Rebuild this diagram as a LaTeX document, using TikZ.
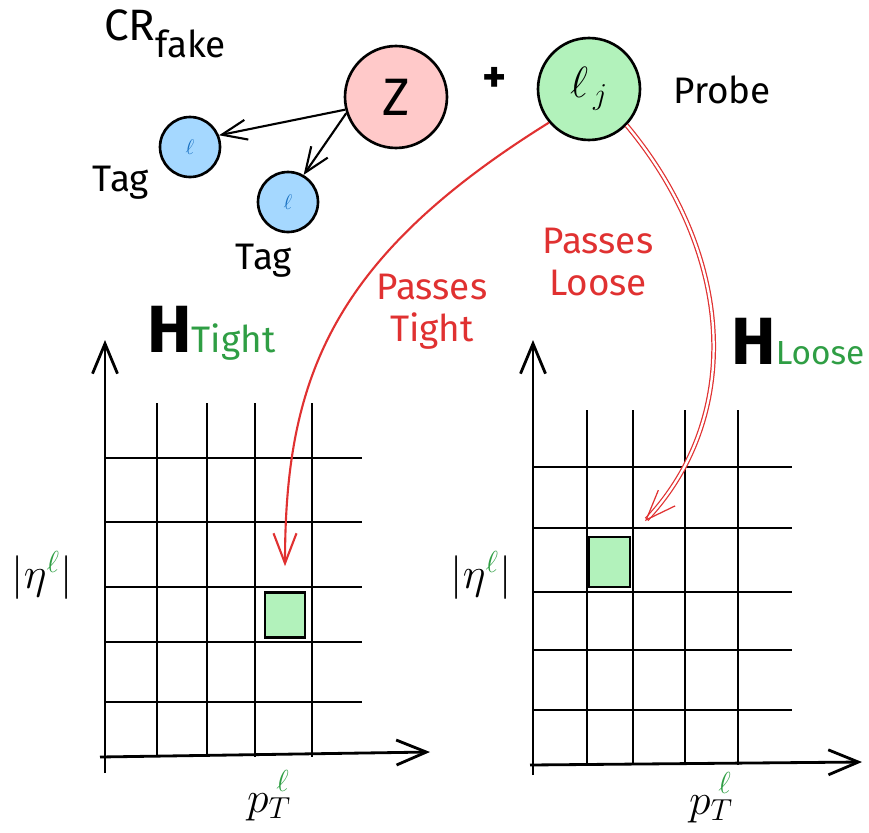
\documentclass[tikz,border=0pt]{standalone}
\usepackage{fontspec}
\setmainfont{Fira Sans}
\usetikzlibrary{arrows.meta,positioning}
\definecolor{zpink}{HTML}{FFC9C9}
\definecolor{lgreen}{HTML}{B2F2BB}
\definecolor{tblue}{HTML}{A5D8FF}
\definecolor{lblue}{HTML}{1971C2}
\definecolor{rred}{HTML}{E03131}
\definecolor{tgreen}{HTML}{2F9E44}

\begin{document}
\begin{tikzpicture}[
x=0.02cm, y=-0.02cm,
ball/.style={draw, circle, line width=1.5pt, inner sep=0pt},
bigball/.style={ball, minimum size=2.04cm},
tagball/.style={ball, fill=tblue, minimum size=1.2cm, text=lblue, font=\large},
caption/.style={font=\fontsize{21}{24}\selectfont},
arrow/.style={-{Straight Barb[length=5mm,width=4mm]}, line width=1.2pt},
pass/.style={-{Straight Barb[length=6mm,width=4.6mm]}, draw=rred, line width=1.2pt},
gridline/.style={line width=1.6pt},
axisline/.style={gridline, -{Straight Barb[length=6mm,width=5mm]}},
cell/.style={draw, fill=lgreen, line width=1.5pt, inner sep=0pt},
axlabel/.style={font=\fontsize{26}{26}\selectfont, inner sep=1pt},
histname/.style={anchor=base west, inner sep=0pt}
]
\useasboundingbox (0,0) rectangle (869,832);

\node[anchor=base west, inner sep=0pt] (cr) at (104,40) {\fontsize{25}{25}\selectfont CR\raisebox{-10pt}{\fontsize{21}{21}\selectfont fake}};
\node[bigball, fill=zpink, font=\fontsize{30}{30}\selectfont] (z) at (396,97) {Z};
\node[font=\bfseries\fontsize{26}{26}\selectfont] (plus) at (495,80) {+};
\node[bigball, fill=lgreen, font=\fontsize{24}{24}\selectfont] (lj) at (589,89) {$\ell_{\,j}$};
\node[caption] (probe) at (722,90) {Probe};
\node[tagball] (tagA) at (190,147) {$\ell$};
\node[tagball] (tagB) at (288,202) {$\ell$};
\node[caption] (tagAl) at (121,183) {Tag};
\node[caption] (tagBl) at (264,261) {Tag};

\draw[arrow] (z.194) -- (tagA.22);
\draw[arrow] (z.198) -- (tagB.60);

\foreach \x in {157,207,255,312} \draw[gridline] (\x,403) -- (\x,757);
\foreach \y in {458,522,587,642,702} \draw[gridline] (105,\y) -- (362,\y);
\draw[axisline] (105,773) -- (105,340);
\draw[axisline] (100,757) -- (430,752);

\foreach \x in {587,633,685,738} \draw[gridline] (\x,410) -- (\x,765);
\foreach \y in {467,528,592,650,710} \draw[gridline] (533,\y) -- (792,\y);
\draw[axisline] (533,775) -- (533,340);
\draw[axisline] (530,765) -- (862,762);

\node[cell, minimum width=0.8cm, minimum height=0.9cm] (cellT) at (285,615) {};
\node[cell, minimum width=0.82cm, minimum height=1cm] (cellL) at (609.5,562) {};

\node[histname] (hT) at (147,352) {{\bfseries\fontsize{38}{38}\selectfont H}{\color{tgreen}\fontsize{21}{21}\selectfont Tight}};
\node[histname] (hL) at (731,364) {{\bfseries\fontsize{38}{38}\selectfont H}{\color{tgreen}\fontsize{19}{19}\selectfont Loose}};
\node[axlabel] (etaT) at (42,575) {$|\eta^{\color{tgreen}\ell}|$};
\node[axlabel] (etaL) at (481,575) {$|\eta^{\color{tgreen}\ell}|$};
\node[axlabel, anchor=base] (ptT) at (268,812) {$p_T\kern-0.32em\raisebox{0.45em}{$\scriptstyle\color{tgreen}\ell$}$};
\node[axlabel, anchor=base] (ptL) at (710,814) {$p_T\kern-0.32em\raisebox{0.45em}{$\scriptstyle\color{tgreen}\ell$}$};

\node[caption, text=rred, align=center] (ptight) at (432,312) {Passes\\Tight};
\node[caption, text=rred, align=center] (ploose) at (598,262) {Passes\\Loose};

\draw[pass, shorten >=0.5cm] (lj.220) .. controls +(-217,135) and +(0,-213) .. (cellT.north);
\draw[pass, double=white, double distance=1.3pt, line width=0.7pt, shorten >=0.4cm] (lj.316) .. controls +(110,132) and +(110,-117) .. (cellL.north east);
\end{tikzpicture}
\end{document}
